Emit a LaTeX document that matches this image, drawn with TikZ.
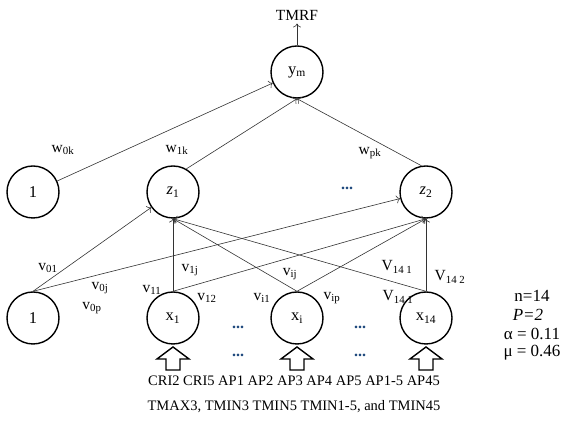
\documentclass[tikz,border=0pt]{standalone}
\usepackage{fontspec}
\setmainfont{Liberation Serif}
\usetikzlibrary{positioning, calc, arrows.meta}

\definecolor{dotblue}{RGB}{31,73,125}

\begin{document}
\begin{tikzpicture}[x=1pt, y=1pt, >={To[scale=1.3]},
    every node/.style={font=\fontsize{15.5}{18}\selectfont},
    neuron/.style={circle, draw, line width=1.4pt, minimum size=52pt, inner sep=0pt,
        font=\fontsize{16.5}{19}\selectfont},
    conn/.style={->, draw=black!80, line width=0.6pt},
    wlabel/.style={inner sep=1pt},
    more/.style={text=dotblue, font=\fontsize{16}{18}\selectfont\bfseries}]

    % Frame
    \useasboundingbox (0,0) rectangle (576,436);

    % Output layer
    \node[neuron] (ym) at (297,364) {y\textsubscript{m}};
    \node (out) at (297,421) {TMRF};

    % Hidden layer
    \node[neuron] (b0) at (33,244) {1};
    \node[neuron] (z1) at (173,244) {\textit{z}\textsubscript{1}};
    \node[neuron] (z2) at (426,244) {\textit{z}\textsubscript{2}};
    \node[more] (hdots) at (347,248) {...};

    % Input layer
    \node[neuron] (b1) at (33,118) {1};
    \node[neuron] (x1) at (173,118) {x\textsubscript{1}};
    \node[neuron] (xi) at (297,118) {x\textsubscript{i}};
    \node[neuron] (x14) at (426,118) {x\textsubscript{14}};
    \node[more] (idotsa) at (238,109) {...};
    \node[more] (idotsb) at (360,109) {...};

    % Hidden to output
    \draw[conn] (ym) -- (out);
    \draw[conn] (b0) -- (ym);
    \draw[conn] (z1.60) -- (ym.south);
    \draw[conn] (z2.100) -- (ym.south);

    % Input to hidden
    \draw[conn] (b1.north) -- (z1);
    \draw[conn] (b1.north) -- (z2);
    \foreach \n in {x1, xi, x14} {
        \draw[conn] (\n.north) -- (z1.south);
        \draw[conn] (\n.north) -- (z2.south);
    }

    % Weight labels
    \node[wlabel] (w0k) at (63,286) {w\textsubscript{0k}};
    \node[wlabel] (w1k) at (177,286) {w\textsubscript{1k}};
    \node[wlabel] (wpk) at (370,283) {w\textsubscript{pk}};
    \node[wlabel] (v01) at (48,168) {v\textsubscript{01}};
    \node[wlabel] (v0j) at (100,148) {v\textsubscript{0j}};
    \node[wlabel] (v0p) at (92,128) {v\textsubscript{0p}};
    \node[wlabel] (v11) at (152,146) {v\textsubscript{11}};
    \node[wlabel] (v1j) at (190,166) {v\textsubscript{1j}};
    \node[wlabel] (v12) at (207,138) {v\textsubscript{12}};
    \node[wlabel] (vij) at (290,162) {v\textsubscript{ij}};
    \node[wlabel] (vi1) at (262,138) {v\textsubscript{i1}};
    \node[wlabel] (vip) at (332,138) {v\textsubscript{ip}};
    \node[wlabel] (Va) at (397,169) {V\textsubscript{14 1}};
    \node[wlabel] (Vb) at (398,139) {V\textsubscript{14 1}};
    \node[wlabel] (Vc) at (450,159) {V\textsubscript{14 2}};

    % Input arrows
    \foreach \x in {173, 297, 426}
        \draw[line width=1.4pt] (\x,89) -- (\x+16,77) -- (\x+7,77) -- (\x+7,66)
            -- (\x-7,66) -- (\x-7,77) -- (\x-16,77) -- cycle;
    \node[more] (adotsa) at (238,81) {...};
    \node[more] (adotsb) at (360,81) {...};

    % Input variables
    \node (vars) at (294,42) [align=center, font=\fontsize{14.5}{25}\selectfont]
        {CRI2 CRI5 AP1 AP2 AP3 AP4 AP5 AP1-5 AP45\\
         TMAX3, TMIN3 TMIN5 TMIN1-5, and TMIN45};

    % Parameters
    \node (n) at (532,140) {\fontsize{17}{19}\selectfont n=14};
    \node (P) at (528,121) {\fontsize{17}{19}\selectfont\textit{P=2}};
    \node (alpha) at (532,102) {\fontsize{17}{19}\selectfont α = 0.11};
    \node (mu) at (532,83) {\fontsize{17}{19}\selectfont μ = 0.46};

\end{tikzpicture}
\end{document}
